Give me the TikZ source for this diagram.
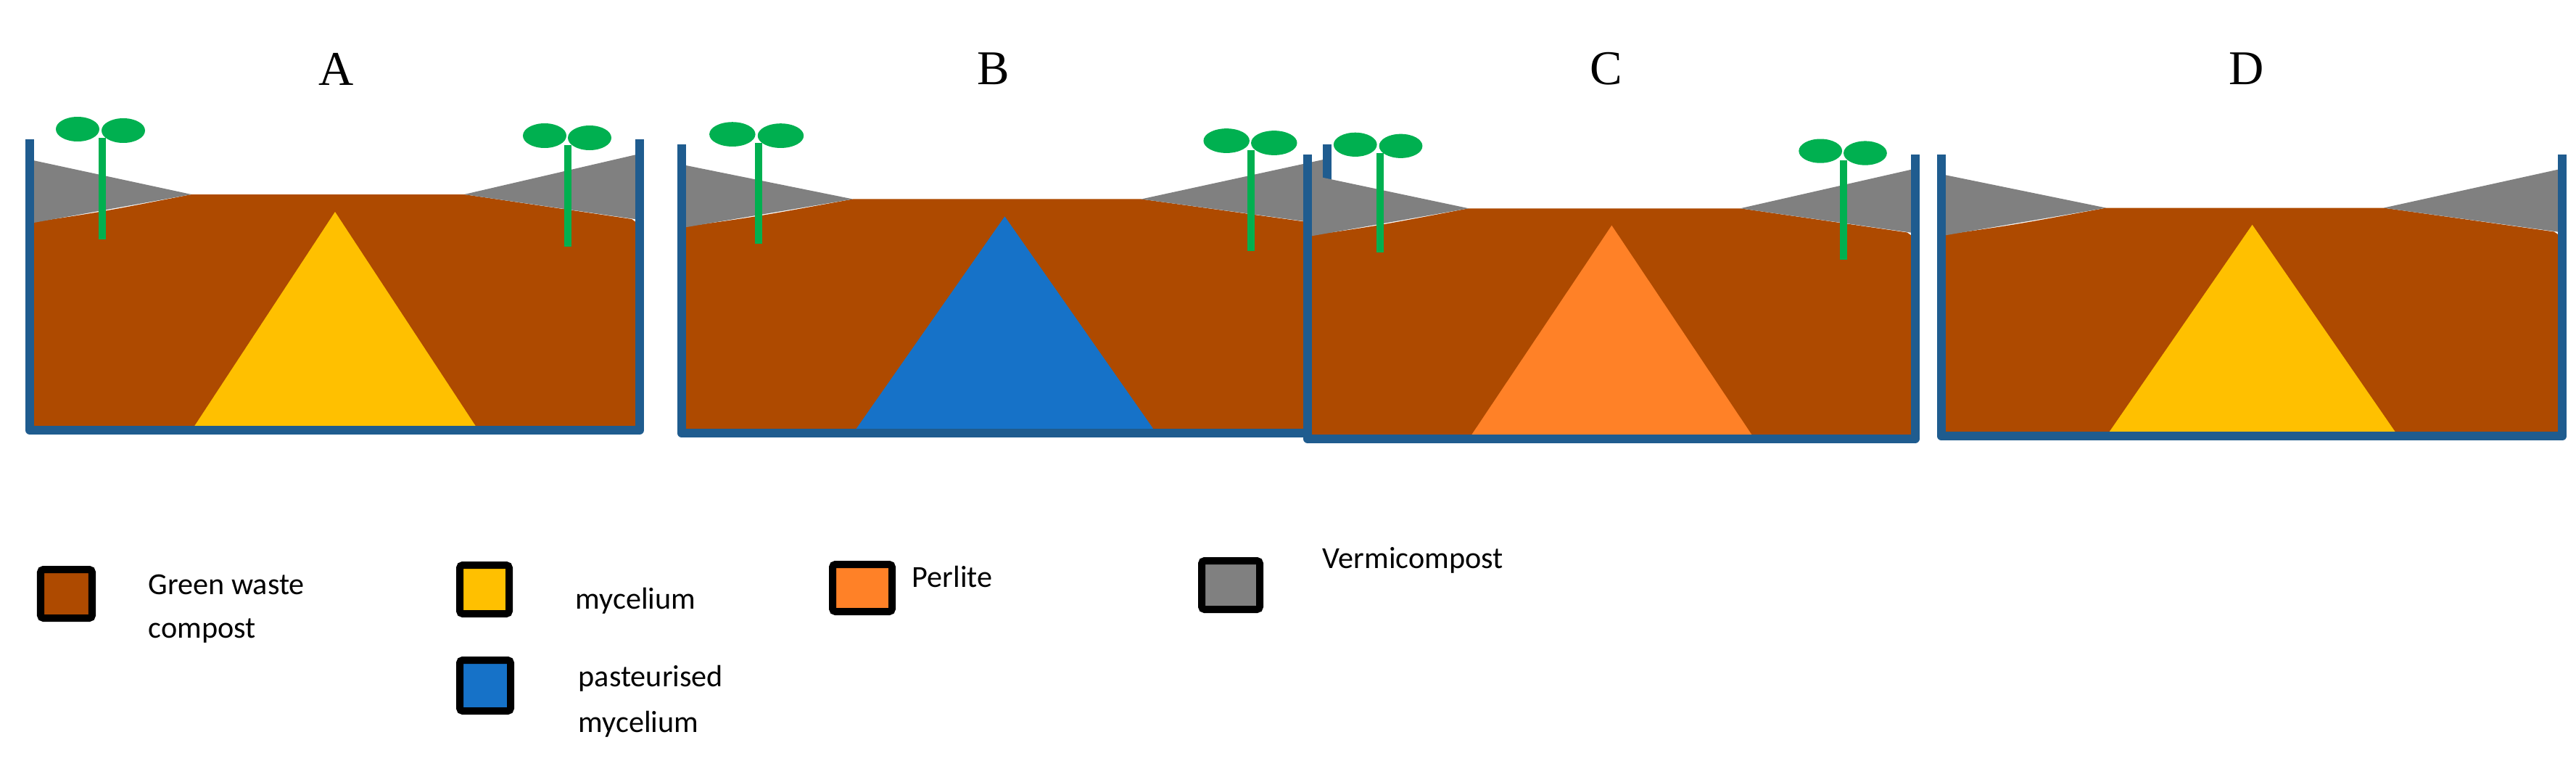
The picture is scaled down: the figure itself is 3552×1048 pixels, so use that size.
\documentclass[tikz,border=0pt]{standalone}
\usepackage{fontspec}
\setmainfont{Liberation Serif}
\newfontfamily\legfont{Carlito}
\definecolor{compost}{HTML}{AE4A00}
\definecolor{myc}{HTML}{FFC000}
\definecolor{pmyc}{HTML}{1672C8}
\definecolor{perl}{HTML}{FF8127}
\definecolor{verm}{HTML}{808080}
\definecolor{plant}{HTML}{00B050}
\definecolor{wall}{HTML}{1F5C8F}
\tikzset{
  lbl/.style={font=\fontsize{19}{21}\selectfont, anchor=center},
  legbox/.style={draw=black, line width=0.1cm, rounded corners=0.04cm},
  legtxt/.style={font=\legfont\fontsize{12}{14}\selectfont, anchor=west, inner sep=0pt},
}
\newcommand\myplants{%
  \draw[plant, line width=0.1cm] (100,-2) -- (100,138);
  \fill[plant] (66,-14) ellipse (30 and 17);
  \fill[plant] (129,-12) ellipse (30 and 17);
  \draw[plant, line width=0.1cm] (742,8) -- (742,148);
  \fill[plant] (710,-5) ellipse (30 and 17);
  \fill[plant] (772,-2) ellipse (30 and 17);
}
% #1 left, #2 top, #3 xscale, #4 yscale, #5 triangle colour, #6 plants
\newcommand\mypanel[6]{%
  \begin{scope}[shift={(#1,#2)}, xscale=#3, yscale=#4]
    \fill[compost] (0,116) -- (6,114) .. controls (100,100) .. (223,76) -- (599,76) -- (830,110) -- (841,118) -- (841,401) -- (0,401) -- cycle;
    \fill[verm] (0,28) -- (223,76) -- (0,116) -- cycle;
    \fill[verm] (841,20) -- (599,76) -- (841,111) -- cycle;
    \fill[#5] (226,397) -- (421,100) -- (616,397) -- cycle;
    #6
    \draw[wall, line width=0.12cm, line join=round] (0,0) -- (0,401) -- (841,401) -- (841,0);
  \end{scope}}
\begin{document}
\begin{tikzpicture}[x=0.01cm, y=-0.01cm]
\useasboundingbox (0,0) rectangle (3552,1048);
\mypanel{41}{192}{1}{1}{myc}{\myplants}
\mypanel{940}{199}{1.058}{0.993}{pmyc}{\myplants}
\mypanel{1803}{213}{0.996}{0.977}{perl}{\myplants}
\mypanel{2677}{213}{1.018}{0.968}{myc}{}
\node[lbl] (tA) at (464,95) {A};
\node[lbl] (tB) at (1370,95) {B};
\node[lbl] (tC) at (2215,95) {C};
\node[lbl] (tD) at (3098,95) {D};
% legend
\draw[legbox, fill=compost] (56,785) rectangle (127,852);
\draw[legbox, fill=myc] (634,779) rectangle (702,846);
\draw[legbox, fill=perl] (1148,778) rectangle (1230,843);
\draw[legbox, fill=verm] (1657,773) rectangle (1737,840);
\draw[legbox, fill=pmyc] (634,910) rectangle (704,980);
\node[legtxt] (l1) at (204,806) {Green waste};
\node[legtxt] (l1b) at (204,870) {compost};
\node[legtxt] (l2) at (793,828) {mycelium};
\node[legtxt] (l3) at (1257,795) {Perlite};
\node[legtxt] (l4) at (1823,772) {Vermicompost};
\node[legtxt] (l5) at (797,935) {pasteurised};
\node[legtxt] (l5b) at (797,998) {mycelium};
\end{tikzpicture}
\end{document}
